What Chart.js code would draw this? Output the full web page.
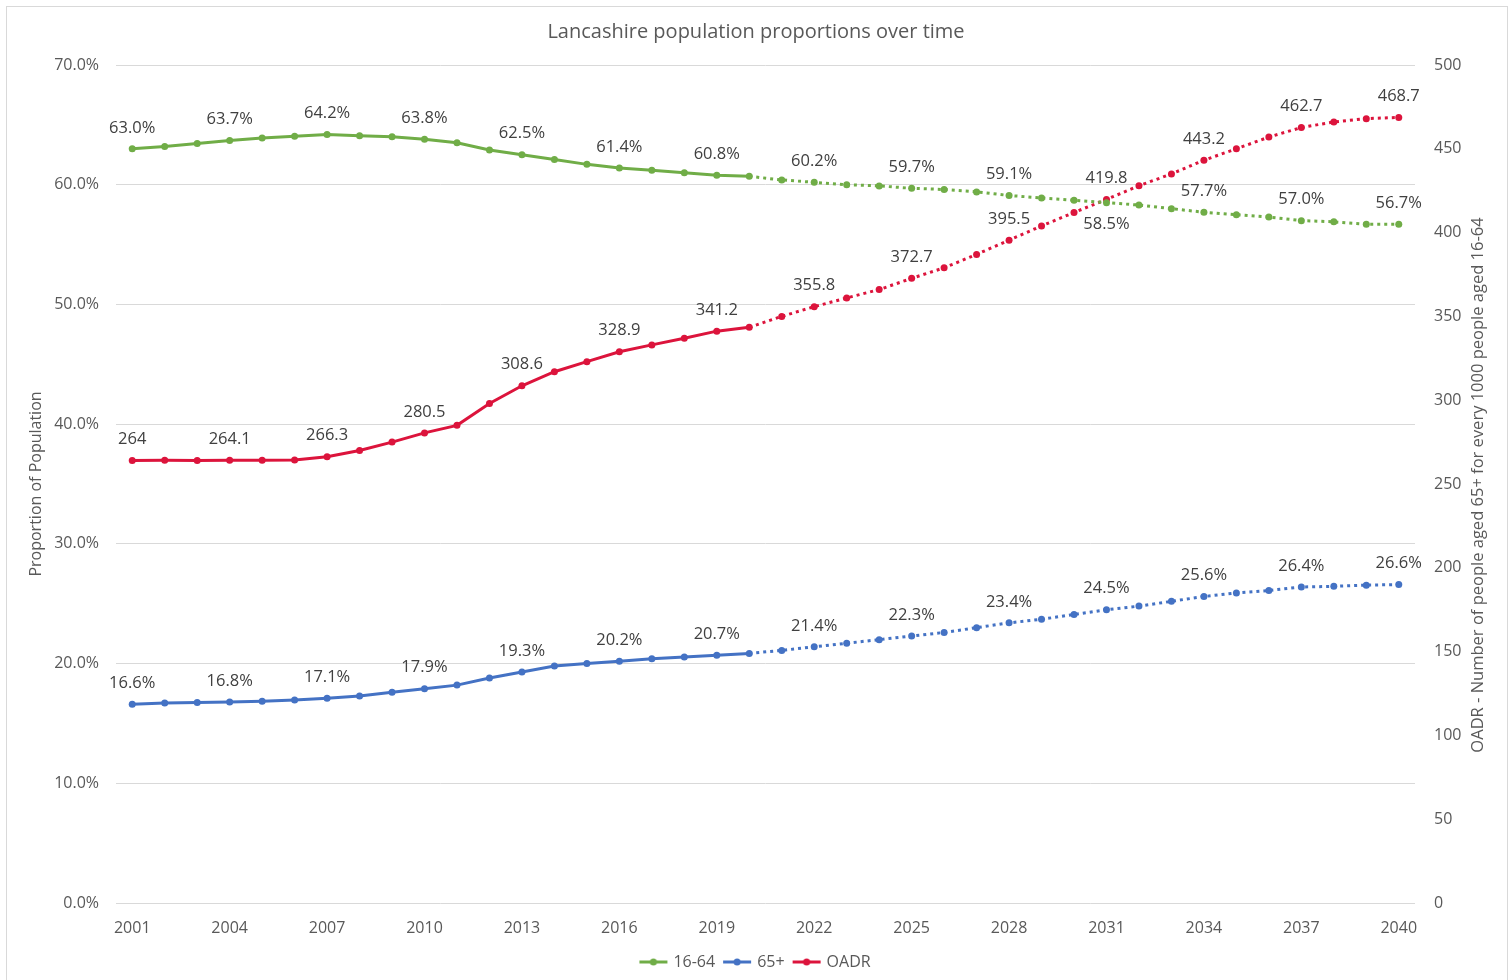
<!DOCTYPE html>
<html>
<head>
<meta charset="utf-8">
<title>Lancashire population proportions over time</title>
<script src="https://cdn.jsdelivr.net/npm/chart.js@4.4.1/dist/chart.umd.min.js"></script>
<style>
  html, body { margin: 0; padding: 0; background: #fff; overflow: hidden; }
  #wrap { position: relative; width: 1512px; height: 980px; }
  #frame { position: absolute; left: 6px; top: 6px; width: 1500px; height: 1000px;
           border: 1px solid #d9d9d9; pointer-events: none; }
</style>
</head>
<body>
<div id="wrap">
  <canvas id="popChart" width="1512" height="980"></canvas>
  <div id="frame"></div>
</div>
<script>
// years 2001..2040 (projections from 2020 on)
const years = ['2001','2002','2003','2004','2005','2006','2007','2008','2009','2010',
  '2011','2012','2013','2014','2015','2016','2017','2018','2019','2020',
  '2021','2022','2023','2024','2025','2026','2027','2028','2029','2030',
  '2031','2032','2033','2034','2035','2036','2037','2038','2039','2040'];

// share of population aged 16-64 (%)
const working = [63.0, 63.2, 63.45, 63.7, 63.9, 64.05, 64.2, 64.1, 64.0, 63.8,
  63.5, 62.9, 62.5, 62.1, 61.7, 61.4, 61.2, 61.0, 60.8, 60.7,
  60.4, 60.2, 60.0, 59.9, 59.7, 59.6, 59.4, 59.1, 58.9, 58.7,
  58.5, 58.3, 58.0, 57.7, 57.5, 57.3, 57.0, 56.9, 56.7, 56.7];

// share of population aged 65+ (%)
const older = [16.6, 16.7, 16.75, 16.8, 16.85, 16.95, 17.1, 17.3, 17.6, 17.9,
  18.2, 18.8, 19.3, 19.8, 20.0, 20.2, 20.4, 20.55, 20.7, 20.85,
  21.1, 21.4, 21.7, 22.0, 22.3, 22.6, 23.0, 23.4, 23.7, 24.1,
  24.5, 24.8, 25.2, 25.6, 25.9, 26.1, 26.4, 26.45, 26.55, 26.6];

// old age dependency ratio (65+ per 1000 aged 16-64)
const oadr = [264, 264.2, 264.0, 264.1, 264.2, 264.3, 266.3, 270, 275, 280.5,
  285, 298, 308.6, 317, 323, 328.9, 333, 337, 341.2, 343.5,
  350, 355.8, 361, 366, 372.7, 379, 387, 395.5, 404, 412,
  419.8, 428, 435, 443.2, 450, 457, 462.7, 466, 468, 468.7];

const leftTicks = [0, 10, 20, 30, 40, 50, 60, 70];
const rightTicks = [0, 50, 100, 150, 200, 250, 300, 350, 400, 450, 500];
const rightTitle = 'OADR - Number of people aged 65+ for every 1000 people aged 16-64';

const projectionStart = 19;   // segments from this index on are dotted
const labelEvery = 3;
const labelsBelow = { '16-64': [30] };

const GREEN = '#70ad47', BLUE = '#4472c4', RED = '#dc143c';
const FONT = "'Open Sans', 'DejaVu Sans', sans-serif";

Chart.defaults.font.family = FONT;
Chart.defaults.font.size = 16;
Chart.defaults.color = '#595959';

// legend marker: short line with a dot in the middle
function legendMarker(color) {
  const c = document.createElement('canvas');
  c.width = 30; c.height = 10;
  const g = c.getContext('2d');
  g.strokeStyle = color;
  g.lineWidth = 3;
  g.beginPath(); g.moveTo(1, 5); g.lineTo(29, 5); g.stroke();
  g.fillStyle = color;
  g.beginPath(); g.arc(15, 5, 3.5, 0, Math.PI * 2); g.fill();
  return c;
}

function series(label, data, color, axis) {
  return {
    label: label,
    data: data,
    yAxisID: axis,
    borderColor: color,
    backgroundColor: color,
    borderWidth: 3,
    pointRadius: 3.5,
    pointHoverRadius: 3.5,
    pointBorderWidth: 0,
    pointBackgroundColor: color,
    pointStyle: 'circle',
    tension: 0,
    segment: {
      borderDash: ctx => ctx.p0DataIndex >= projectionStart ? [3, 4] : undefined
    },
    legendMarker: legendMarker(color)
  };
}

function fmt(label, v) {
  if (label === 'OADR') return String(Number(v.toFixed(1)));
  return v.toFixed(1) + '%';
}

// value labels every third year
const pointLabels = {
  id: 'pointLabels',
  afterDatasetsDraw(chart) {
    const ctx = chart.ctx;
    ctx.save();
    ctx.font = '16.5px ' + FONT;
    ctx.fillStyle = '#404040';
    ctx.textAlign = 'center';
    ctx.textBaseline = 'middle';
    chart.data.datasets.forEach((ds, di) => {
      const meta = chart.getDatasetMeta(di);
      const below = labelsBelow[ds.label] || [];
      meta.data.forEach((pt, i) => {
        if (i % labelEvery !== 0) return;
        const dy = below.includes(i) ? 22 : -21;
        ctx.fillText(fmt(ds.label, ds.data[i]), pt.x, pt.y + dy);
      });
    });
    ctx.restore();
  }
};

// secondary axis title, reading bottom to top like the left one
const rightAxisTitle = {
  id: 'rightAxisTitle',
  afterDraw(chart) {
    const ctx = chart.ctx;
    const area = chart.chartArea;
    ctx.save();
    ctx.font = '16.5px ' + FONT;
    ctx.fillStyle = '#595959';
    ctx.textAlign = 'center';
    ctx.textBaseline = 'middle';
    ctx.translate(1478, (area.top + area.bottom) / 2 + 1);
    ctx.rotate(-Math.PI / 2);
    ctx.fillText(rightTitle, 0, 0);
    ctx.restore();
  }
};

const chart = new Chart(document.getElementById('popChart'), {
  type: 'line',
  data: {
    labels: years,
    datasets: [
      series('16-64', working, GREEN, 'y'),
      series('65+', older, BLUE, 'y'),
      series('OADR', oadr, RED, 'y1')
    ]
  },
  options: {
    responsive: false,
    animation: false,
    layout: { padding: 0 },
    plugins: {
      title: {
        display: true,
        text: 'Lancashire population proportions over time',
        color: '#595959',
        font: { size: 20, weight: 'normal' },
        padding: { top: 20, bottom: 21 }
      },
      legend: {
        position: 'bottom',
        labels: {
          usePointStyle: true,
          pointStyleWidth: 24,
          padding: 10,
          color: '#595959',
          font: { size: 16 },
          generateLabels: (chart) => chart.data.datasets.map((ds, i) => ({
            text: ds.label,
            pointStyle: ds.legendMarker,
            fontColor: '#595959',
            strokeStyle: ds.borderColor,
            fillStyle: ds.borderColor,
            lineWidth: 0,
            datasetIndex: i
          }))
        }
      },
      tooltip: { enabled: false }
    },
    scales: {
      x: {
        type: 'category',
        offset: true,
        grid: { display: false, drawTicks: false },
        border: { display: false },
        ticks: {
          autoSkip: false,
          maxRotation: 0,
          padding: 16,
          callback: (v, i) => i % labelEvery === 0 ? years[i] : ''
        },
        afterFit: s => { s.height = 41; }
      },
      y: {
        position: 'left',
        min: leftTicks[0],
        max: leftTicks[leftTicks.length - 1],
        afterBuildTicks: s => { s.ticks = leftTicks.map(v => ({ value: v })); },
        grid: { color: '#d9d9d9', lineWidth: 1, drawTicks: false },
        border: { display: false },
        ticks: { padding: 17, callback: v => v.toFixed(1) + '%' },
        title: {
          display: true,
          text: 'Proportion of Population',
          font: { size: 16 },
          padding: { top: 27, bottom: 0 }
        },
        afterFit: s => { s.width = 116; }
      },
      y1: {
        position: 'right',
        min: rightTicks[0],
        max: rightTicks[rightTicks.length - 1],
        afterBuildTicks: s => { s.ticks = rightTicks.map(v => ({ value: v })); },
        grid: { display: false, drawTicks: false },
        border: { display: false },
        ticks: { padding: 19 },
        afterFit: s => { s.width = 97; }
      }
    }
  },
  plugins: [pointLabels, rightAxisTitle]
});
</script>
</body>
</html>
